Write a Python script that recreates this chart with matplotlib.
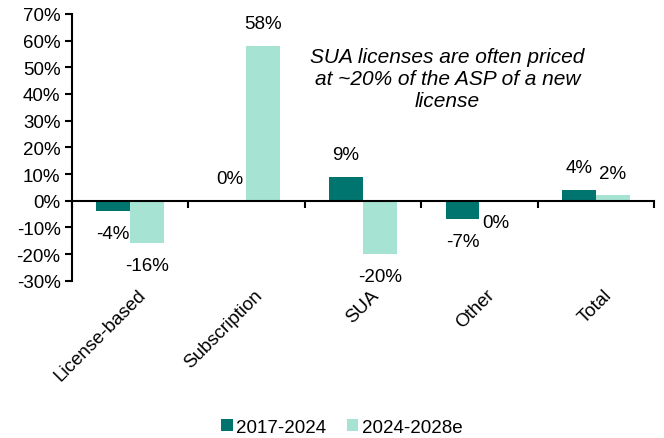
import numpy as np
import matplotlib
matplotlib.use("Agg")
import matplotlib.pyplot as plt
import matplotlib.transforms as mtransforms

plt.rcParams['font.family'] = ['Liberation Sans', 'DejaVu Sans']

categories = ['License-based', 'Subscription', 'SUA', 'Other', 'Total']
series_names = ['2017-2024', '2024-2028e']
growth_2017_2024 = [-4, 0, 9, -7, 4]
growth_2024_2028 = [-16, 58, -20, 0, 2]
y_ticks = [-30, -20, -10, 0, 10, 20, 30, 40, 50, 60, 70]
note = 'SUA licenses are often priced\nat ~20% of the ASP of a new\nlicense'

dark = '#00756F'
light = '#A6E3D3'
fs = 13.5

fig = plt.figure(figsize=(6.64, 4.39), dpi=100)
ax = fig.add_axes([0.108, 0.358, 0.877, 0.608])

x = np.arange(len(categories))
w = 0.29
b1 = ax.bar(x - w / 2, growth_2017_2024, w, color=dark, label=series_names[0])
b2 = ax.bar(x + w / 2, growth_2024_2028, w, color=light, label=series_names[1])

# value labels, zero values follow the sign of the other series
for vals, other, off in [(growth_2017_2024, growth_2024_2028, -w / 2),
                         (growth_2024_2028, growth_2017_2024, w / 2)]:
    for i, v in enumerate(vals):
        ref = v if v != 0 else other[i]
        dy = 16 if ref >= 0 else -16
        ax.annotate(f'{v}%', (i + off, v), xytext=(0, dy), textcoords='offset points',
                    ha='center', va='center', fontsize=fs)

ax.set_xlim(-0.5, len(categories) - 0.5)
ax.set_ylim(-30, 70)
ax.set_yticks(y_ticks)
ax.set_yticklabels([f'{t}%' for t in y_ticks])
ax.tick_params(axis='y', labelsize=fs, length=5, width=1.5, direction='out', pad=3)

ax.spines['top'].set_visible(False)
ax.spines['right'].set_visible(False)
ax.spines['left'].set_linewidth(1.5)
ax.spines['bottom'].set_position(('data', 0))
ax.spines['bottom'].set_linewidth(1.5)
ax.set_xticks(np.arange(len(categories) + 1) - 0.5)
ax.set_xticklabels([])
ax.tick_params(axis='x', length=5, width=1.5, direction='out')

trans = mtransforms.blended_transform_factory(ax.transData, ax.transAxes)
for i, c in enumerate(categories):
    ax.text(i + 0.06, -0.02, c, transform=trans, rotation=45, ha='right', va='top',
            rotation_mode='anchor', fontsize=fs)

ax.text(0.645, 0.757, note, transform=ax.transAxes, ha='center', va='center',
        fontsize=15, style='italic', linespacing=1.2)

fig.legend(handles=[b1, b2], loc='center', bbox_to_anchor=(0.515, 0.025), ncol=2,
           frameon=False, fontsize=fs, handlelength=0.6, handleheight=0.6,
           handletextpad=0.2, columnspacing=1.1)

fig.savefig('out.png', dpi=100)
